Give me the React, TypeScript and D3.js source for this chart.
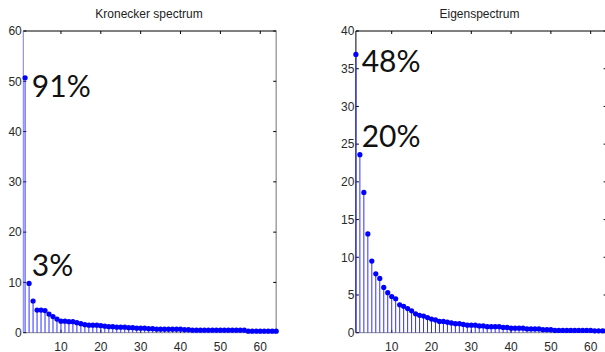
import React from "react";
import * as d3 from "d3";

// ---- data ----
const kroneckerValues: number[] = [
  50.7, 9.8, 6.3, 4.5, 4.5, 4.4, 3.7, 3.2, 2.7, 2.3,
  2.3, 2.2, 2.2, 2.0, 1.8, 1.6, 1.5, 1.5, 1.5, 1.4,
  1.3, 1.2, 1.2, 1.1, 1.1, 1.1, 1.0, 1.0, 0.9, 0.9,
  0.9, 0.8, 0.8, 0.7, 0.7, 0.7, 0.7, 0.7, 0.7, 0.7,
  0.6, 0.6, 0.5, 0.5, 0.5, 0.5, 0.5, 0.5, 0.5, 0.5,
  0.5, 0.5, 0.5, 0.5, 0.5, 0.5, 0.3, 0.3, 0.3, 0.3,
  0.3, 0.3, 0.3, 0.3,
];

const eigenValues: number[] = [
  36.9, 23.6, 18.6, 13.1, 9.5, 7.8, 7.2, 6.0, 5.3, 4.8,
  4.5, 3.7, 3.5, 3.2, 2.9, 2.5, 2.3, 2.2, 2.0, 1.8,
  1.7, 1.5, 1.5, 1.4, 1.3, 1.2, 1.2, 1.1, 1.0, 1.0,
  1.0, 0.9, 0.9, 0.8, 0.8, 0.8, 0.8, 0.7, 0.7, 0.6,
  0.6, 0.6, 0.6, 0.5, 0.5, 0.5, 0.5, 0.4, 0.4, 0.4,
  0.3, 0.3, 0.3, 0.3, 0.3, 0.3, 0.3, 0.3, 0.3, 0.3,
  0.25, 0.25, 0.25, 0.25,
];

const xTickValues: number[] = [10, 20, 30, 40, 50, 60];
const kroneckerYTicks: number[] = [0, 10, 20, 30, 40, 50, 60];
const eigenYTicks: number[] = [0, 5, 10, 15, 20, 25, 30, 35, 40];

const kroneckerTitle = "Kronecker spectrum";
const eigenTitle = "Eigenspectrum";

const kroneckerNotes = [
  { text: "91%", x: 2.7, y: 46.8 },
  { text: "3%", x: 2.7, y: 11.3 },
];
const eigenNotes = [
  { text: "48%", x: 2.45, y: 34.6 },
  { text: "20%", x: 2.45, y: 24.6 },
];

type Note = { text: string; x: number; y: number };

type PanelProps = {
  title: string;
  titleX: number;
  values: number[];
  yTicks: number[];
  yMax: number;
  xDomain: [number, number];
  xRange: [number, number];
  notes: Note[];
  leftAxisColor: string;
  rightAxisColor: string;
};

const TOP = 31;
const BOTTOM = 332.7;
const TICK = 3;
const FONT = "Liberation Sans, Arial, sans-serif";

function Panel(p: PanelProps) {
  const x = d3.scaleLinear().domain(p.xDomain).range(p.xRange);
  const y = d3.scaleLinear().domain([0, p.yMax]).range([BOTTOM, TOP]);
  const left = p.xRange[0];
  const right = p.xRange[1];
  return (
    <g>
      <text x={p.titleX} y={18} textAnchor="middle" fontFamily={FONT} fontSize={12} fill="#222">
        {p.title}
      </text>
      {/* frame */}
      <line x1={left} x2={right} y1={TOP} y2={TOP} stroke="#000" strokeWidth={1} />
      <line x1={right} x2={right} y1={TOP} y2={BOTTOM} stroke={p.rightAxisColor} strokeWidth={1.4} />
      <line x1={left} x2={left} y1={TOP} y2={BOTTOM} stroke={p.leftAxisColor} strokeWidth={1} />
      <line x1={left} x2={right} y1={BOTTOM} y2={BOTTOM} stroke="#888" strokeWidth={1} />
      {/* y ticks */}
      {p.yTicks.map((t) => (
        <g key={"y" + t}>
          <line x1={left} x2={left + TICK} y1={y(t)} y2={y(t)} stroke="#000" strokeWidth={1} />
          <line x1={right} x2={right - TICK} y1={y(t)} y2={y(t)} stroke="#000" strokeWidth={1} />
          <text x={left - 1.5} y={y(t)} dy="0.36em" textAnchor="end" fontFamily={FONT} fontSize={12} fill="#2a2a2a">
            {t}
          </text>
        </g>
      ))}
      {/* x ticks */}
      {xTickValues.map((t) => (
        <g key={"x" + t}>
          <line x1={x(t)} x2={x(t)} y1={TOP} y2={TOP + TICK} stroke="#000" strokeWidth={1} />
          <line x1={x(t)} x2={x(t)} y1={BOTTOM} y2={BOTTOM - TICK} stroke="#000" strokeWidth={1} />
          <text x={x(t)} y={350.5} textAnchor="middle" fontFamily={FONT} fontSize={12} fill="#2a2a2a">
            {t}
          </text>
        </g>
      ))}
      {/* stems */}
      {p.values.map((v, i) => (
        <line key={"s" + i} x1={x(i + 1)} x2={x(i + 1)} y1={y(0)} y2={y(v)} stroke="#2f2fff" strokeWidth={1} />
      ))}
      {p.values.map((v, i) => (
        <circle key={"c" + i} cx={x(i + 1)} cy={y(v)} r={2.6} fill="#0000ff" />
      ))}
      {p.notes.map((n) => (
        <text key={n.text} x={x(n.x)} y={y(n.y)} fontFamily="Lato, 'Open Sans', sans-serif" fontSize={30} fill="#111">
          {n.text}
        </text>
      ))}
    </g>
  );
}

export default function App() {
  return (
    <svg width={605} height={352} style={{ position: "absolute", left: 0, top: 0, background: "#fff" }}>
      <rect x={0} y={0} width={605} height={352} fill="#fff" />
      <Panel
        title={kroneckerTitle}
        titleX={149}
        values={kroneckerValues}
        yTicks={kroneckerYTicks}
        yMax={60}
        xDomain={[0.55, 64]}
        xRange={[23.3, 276.2]}
        notes={kroneckerNotes}
        leftAxisColor="#7a7aff"
        rightAxisColor="#9a9a9a"
      />
      <Panel
        title={eigenTitle}
        titleX={479.5}
        values={eigenValues}
        yTicks={eigenYTicks}
        yMax={40}
        xDomain={[1, 64]}
        xRange={[355.9, 606.6]}
        notes={eigenNotes}
        leftAxisColor="#000"
        rightAxisColor="#9a9a9a"
      />
    </svg>
  );
}
